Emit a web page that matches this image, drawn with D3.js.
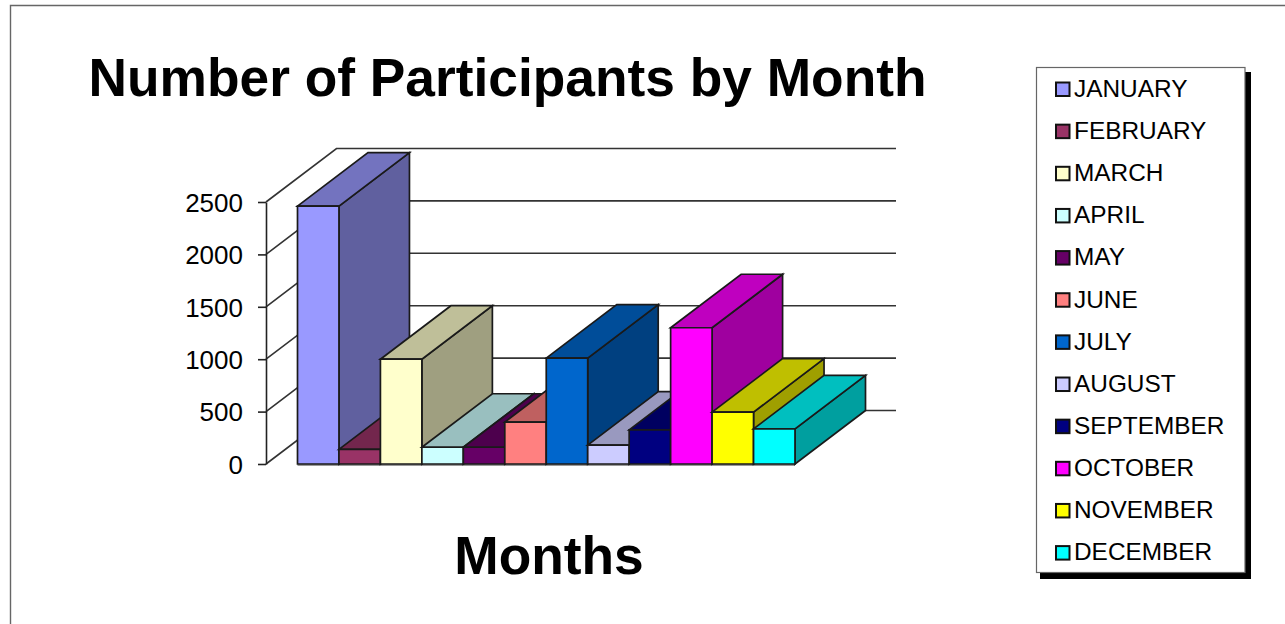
<!DOCTYPE html>
<html><head><meta charset="utf-8">
<script src="https://cdn.jsdelivr.net/npm/d3@7"></script>
<style>html,body{margin:0;padding:0;background:#fff;overflow:hidden}svg{display:block}text{font-family:"Liberation Sans",Arial,sans-serif;fill:#000}</style>
</head><body><svg id="c" width="1285" height="624"></svg>
<script>
const months=["JANUARY","FEBRUARY","MARCH","APRIL","MAY","JUNE","JULY","AUGUST","SEPTEMBER","OCTOBER","NOVEMBER","DECEMBER"];
const participants=[2460,140,1000,160,160,400,1010,180,325,1300,495,335];
const barColors=["#9999FF","#993366","#FFFFCC","#CCFFFF","#660066","#FF8080","#0066CC","#CCCCFF","#000080","#FF00FF","#FFFF00","#00FFFF"];
const yTicks=[0,500,1000,1500,2000,2500];
const titleText="Number of Participants by Month";
const xTitleText="Months";

const svg=d3.select("#c");
const dx=70.5, dy=-53.5;
const y=d3.scaleLinear().domain([0,2500]).range([464,202]);
const x=d3.scaleBand().domain(months).range([297.5,795]);
const legendY=d3.scalePoint().domain(months).range([89,552.6]);

// frame
svg.append("path").attr("d","M1285,5.5H10.5V624").attr("fill","none").attr("stroke","#666").attr("stroke-width",1.4);

// walls / gridlines
const wallX=266, wallRight=896;
svg.append("g").selectAll("path").data(yTicks).join("path")
  .attr("d",t=>`M${wallX},${y(t)}L${wallX+dx},${y(t)+dy}H${wallRight}`)
  .attr("fill","none").attr("stroke","#333").attr("stroke-width",1.6);

// axis
const ax=svg.append("g").attr("transform",`translate(${wallX},0)`)
  .call(d3.axisLeft(y).tickValues(yTicks).tickFormat(d3.format("d")).tickSize(8).tickPadding(15).tickSizeOuter(0));
ax.selectAll("path,line").attr("stroke","#222").attr("stroke-width",1.6);
ax.selectAll("text").attr("font-size",26).attr("dy","0.36em").style("font-family",'"Liberation Sans",Arial,sans-serif').style("fill","#000");

// baseline
svg.append("line").attr("x1",x.range()[0]).attr("x2",x.range()[1]).attr("y1",465).attr("y2",465).attr("stroke","#777").attr("stroke-width",1.5);

// bars
const bars=svg.append("g").selectAll("g").data(months).join("g");
function face(sel,cls,fn,color){
  sel.append("path").attr("class",cls).attr("d",fn).attr("fill",color)
    .attr("stroke","#1a1a1a").attr("stroke-width",1.7).attr("stroke-linejoin","miter");
}
const w=x.bandwidth();
const val=m=>participants[months.indexOf(m)];
const col=m=>d3.color(barColors[months.indexOf(m)]);
const shade=(c,k)=>{const r=d3.rgb(c);return d3.rgb(r.r*k,r.g*k,r.b*k).formatHex();};
face(bars,"side",m=>{const a=x(m)+w,t=y(val(m)),b=y(0);return `M${a},${t}l${dx},${dy}V${b+dy}L${a},${b}Z`;},m=>shade(col(m),.625));
face(bars,"top",m=>{const a=x(m),t=y(val(m));return `M${a},${t}l${dx},${dy}h${w}l${-dx},${-dy}Z`;},m=>shade(col(m),.75));
face(bars,"front",m=>{const a=x(m),t=y(val(m));return `M${a},${t}h${w}V${y(0)}H${a}Z`;},m=>col(m).formatHex());

// titles
svg.append("text").attr("x",507.5).attr("y",96).attr("text-anchor","middle").attr("font-weight","bold").attr("font-size",53.3).text(titleText);
svg.append("text").attr("x",549).attr("y",574).attr("text-anchor","middle").attr("font-weight","bold").attr("font-size",53.3).text(xTitleText);

// legend
const lg=svg.append("g");
lg.append("rect").attr("x",1040).attr("y",72).attr("width",211).attr("height",507).attr("fill","#000");
lg.append("rect").attr("x",1036.5).attr("y",67.5).attr("width",208.5).attr("height",505).attr("fill","#fff").attr("stroke","#666").attr("stroke-width",1.2);
const items=lg.selectAll("g.i").data(months).join("g").attr("class","i").attr("transform",m=>`translate(0,${legendY(m)})`);
items.append("rect").attr("x",1056).attr("y",-6.5).attr("width",13.5).attr("height",13.5).attr("fill",(m,i)=>barColors[i]).attr("stroke","#111").attr("stroke-width",2);
items.append("text").attr("x",1074).attr("y",0).attr("dy","0.32em").attr("font-size",24.4).text(m=>m);
</script></body></html>
